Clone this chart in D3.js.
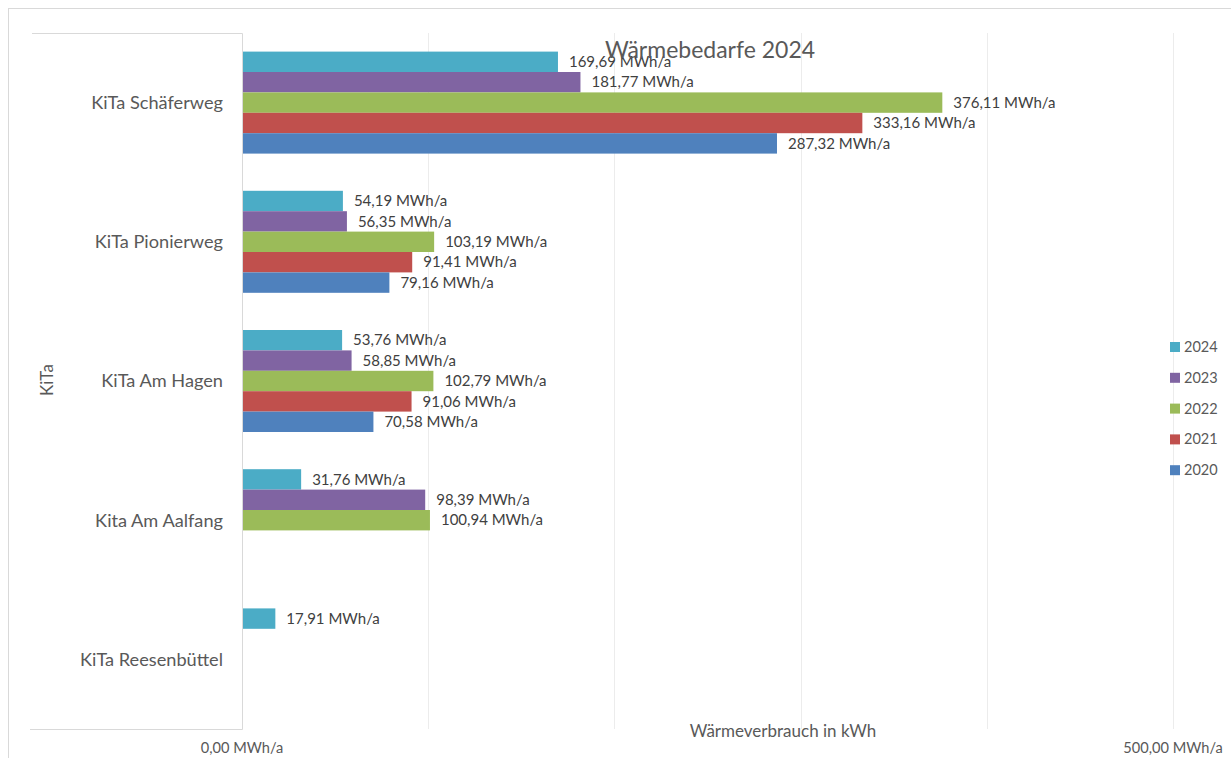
<!DOCTYPE html>
<html>
<head>
<meta charset="utf-8">
<script src="https://cdn.jsdelivr.net/npm/d3@7"></script>
<style>
  body { margin: 0; background: #fff; }
  svg { display: block; font-family: Lato, "Open Sans", sans-serif; }
</style>
</head>
<body>
<div id="chart"></div>
<script>
// Daten
const kitas = ["KiTa Schäferweg", "KiTa Pionierweg", "KiTa Am Hagen", "Kita Am Aalfang", "KiTa Reesenbüttel"];
const jahre = ["2024", "2023", "2022", "2021", "2020"];
const werte2024 = [169.69, 54.19, 53.76, 31.76, 17.91];
const werte2023 = [181.77, 56.35, 58.85, 98.39, null];
const werte2022 = [376.11, 103.19, 102.79, 100.94, null];
const werte2021 = [333.16, 91.41, 91.06, null, null];
const werte2020 = [287.32, 79.16, 70.58, null, null];
const farben = ["#4BACC6", "#8064A2", "#9BBB59", "#C0504D", "#4F81BD"];
const xTicks = [0, 500];

const serien = [werte2024, werte2023, werte2022, werte2021, werte2020];

const width = 1231, height = 758;
const plotLinks = 242, plotRechts = 1173, plotOben = 33, plotUnten = 729;

const svg = d3.select('#chart').append('svg')
    .attr('width', width)
    .attr('height', height);

// Rahmen
svg.append('rect')
    .attr('x', 8.5).attr('y', 8.5)
    .attr('width', 1240).attr('height', 760)
    .attr('fill', 'none').attr('stroke', '#d9d9d9');

const x = d3.scaleLinear().domain([0, 500]).range([plotLinks, plotRechts]);
const y = d3.scaleBand().domain(kitas).range([plotOben, plotUnten]);
const ySub = d3.scaleBand().domain(jahre).range([-51, 51]);

// Gitterlinien
svg.append('g')
    .selectAll('line')
    .data(d3.range(100, 501, 100))
    .enter().append('line')
    .attr('x1', d => Math.round(x(d)) + 0.5)
    .attr('x2', d => Math.round(x(d)) + 0.5)
    .attr('y1', plotOben).attr('y2', plotUnten)
    .attr('stroke', '#ececec');

// Kasten der Kategorienachse
svg.append('path')
    .attr('d', `M32,${plotOben + 0.5}H${plotLinks + 0.5}V${plotUnten + 0.5}H30`)
    .attr('fill', 'none')
    .attr('stroke', '#d9d9d9');

// Balken
const gruppen = svg.append('g')
    .selectAll('g')
    .data(kitas)
    .enter().append('g')
    .attr('transform', d => `translate(0,${y(d) + y.bandwidth() / 2})`);

gruppen.each(function (kita, i) {
    const g = d3.select(this);
    const daten = jahre.map((j, k) => ({ jahr: j, wert: serien[k][i], farbe: farben[k] }))
        .filter(d => d.wert !== null);

    g.selectAll('rect')
        .data(daten)
        .enter().append('rect')
        .attr('x', plotLinks + 1)
        .attr('y', d => ySub(d.jahr))
        .attr('width', d => x(d.wert) - plotLinks - 1)
        .attr('height', ySub.bandwidth())
        .attr('fill', d => d.farbe);

    g.selectAll('text')
        .data(daten)
        .enter().append('text')
        .attr('x', d => x(d.wert) + 11)
        .attr('y', d => ySub(d.jahr) + ySub.bandwidth() / 2)
        .attr('dy', '0.35em')
        .attr('font-size', 15)
        .attr('fill', '#404040')
        .text(d => d.wert.toFixed(2).replace('.', ',') + ' MWh/a');
});

// Kategorienbeschriftung
svg.append('g')
    .selectAll('text')
    .data(kitas)
    .enter().append('text')
    .attr('x', plotLinks - 19)
    .attr('y', d => y(d) + y.bandwidth() / 2)
    .attr('dy', '0.35em')
    .attr('text-anchor', 'end')
    .attr('font-size', 18.2)
    .attr('fill', '#595959')
    .text(d => d);

// x-Achse Ticks
svg.append('g')
    .selectAll('text')
    .data(xTicks)
    .enter().append('text')
    .attr('x', d => x(d))
    .attr('y', 748)
    .attr('dy', '0.35em')
    .attr('text-anchor', 'middle')
    .attr('font-size', 14.6)
    .attr('fill', '#595959')
    .text(d => d.toFixed(2).replace('.', ',') + ' MWh/a');

// Achsentitel
svg.append('text')
    .attr('x', 783).attr('y', 731)
    .attr('dy', '0.35em')
    .attr('text-anchor', 'middle')
    .attr('font-size', 17)
    .attr('fill', '#595959')
    .text('Wärmeverbrauch in kWh');

svg.append('text')
    .attr('transform', 'translate(47,380) rotate(-90)')
    .attr('dy', '0.35em')
    .attr('text-anchor', 'middle')
    .attr('font-size', 17)
    .attr('fill', '#595959')
    .text('KiTa');

// Titel
svg.append('text')
    .attr('x', 710).attr('y', 50)
    .attr('dy', '0.35em')
    .attr('text-anchor', 'middle')
    .attr('font-size', 23)
    .attr('fill', '#595959')
    .text('Wärmebedarfe 2024');

// Legende
const legende = svg.append('g')
    .selectAll('g')
    .data(jahre)
    .enter().append('g')
    .attr('transform', (d, i) => `translate(1170,${347 + i * 30.8})`);

legende.append('rect')
    .attr('x', 0).attr('y', -5)
    .attr('width', 10).attr('height', 10)
    .attr('fill', (d, i) => farben[i]);

legende.append('text')
    .attr('x', 14)
    .attr('dy', '0.35em')
    .attr('font-size', 14.5)
    .attr('fill', '#595959')
    .text(d => d);
</script>
</body>
</html>
